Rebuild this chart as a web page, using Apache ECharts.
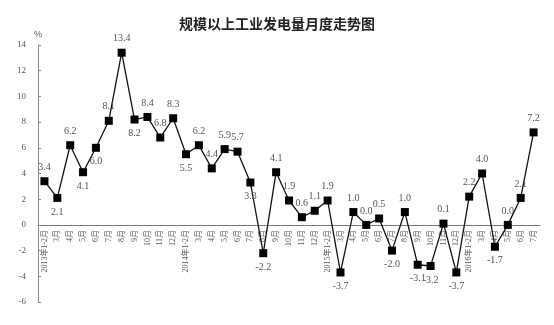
<!DOCTYPE html>
<html><head><meta charset="utf-8">
<script src="https://cdn.jsdelivr.net/npm/echarts@6/dist/echarts.min.js"></script>
<style>html,body{margin:0;padding:0;background:#fff}#c{width:554px;height:325px}</style>
</head><body><div id="c"></div>
<script>
const categories = ['2013年1-2月','3月','4月','5月','6月','7月','8月','9月','10月','11月','12月',
  '2014年1-2月','3月','4月','5月','6月','7月','8月','9月','10月','11月','12月',
  '2015年1-2月','3月','4月','5月','6月','7月','8月','9月','10月','11月','12月',
  '2016年1-2月','3月','4月','5月','6月','7月'];
const values = [3.4,2.1,6.2,4.1,6.0,8.1,13.4,8.2,8.4,6.8,8.3,
  5.5,6.2,4.4,5.9,5.7,3.3,-2.2,4.1,1.9,0.6,1.1,
  1.9,-3.7,1.0,0.0,0.5,-2.0,1.0,-3.1,-3.2,0.1,-3.7,
  2.2,4.0,-1.7,0.0,2.1,7.2];
const yTicks = {min:-6, max:14, interval:2};
// indices whose value label is drawn under the marker
const labelBelow = [1,3,4,7,11,16,17,23,27,29,30,32,35];

const H = 325, gridTop = 45, gridBottom = 23;
const plotH = H - gridTop - gridBottom;
// move category axis up to the zero line of the value axis
const zeroOffset = plotH * (0 - yTicks.min) / (yTicks.max - yTicks.min);

const seriesData = values.map((v,i)=>({
  value:v,
  label:{position: labelBelow.includes(i) ? 'bottom' : 'top'}
}));
const serif = '"Liberation Serif","Noto Sans CJK SC",serif';
const chart = echarts.init(document.getElementById('c'));
chart.setOption({
  animation:false,
  title:{text:'规模以上工业发电量月度走势图',left:'center',top:12,
    textStyle:{fontSize:14,fontWeight:'bold',color:'#222',fontFamily:'"Noto Sans CJK SC",sans-serif'}},
  grid:{left:38,right:14,top:gridTop,bottom:gridBottom,containLabel:false,outerBoundsMode:'none'},
  xAxis:{type:'category',data:categories,boundaryGap:true,position:'bottom',offset:-zeroOffset,
    axisLine:{onZero:false,lineStyle:{color:'#777',width:1}},
    axisTick:{inside:true,length:3,lineStyle:{color:'#777'}},
    axisLabel:{rotate:90,fontSize:8,color:'#555',interval:0,margin:5,fontFamily:serif}},
  yAxis:{type:'value',min:yTicks.min,max:yTicks.max,interval:yTicks.interval,
    name:'%',nameLocation:'end',nameGap:6,
    nameTextStyle:{fontSize:9,color:'#555',align:'center'},
    axisLine:{show:true,lineStyle:{color:'#888'}},
    axisTick:{show:true,inside:true,length:3,lineStyle:{color:'#888'}},
    splitLine:{show:false},
    axisLabel:{fontSize:9,color:'#555',margin:12,fontFamily:serif}},
  series:[{type:'line',data:seriesData,symbol:'rect',symbolSize:8,
    lineStyle:{color:'#111',width:1.3},itemStyle:{color:'#000'},
    label:{show:true,fontSize:10,color:'#555',distance:5,fontFamily:serif,
      formatter:p=>p.value.toFixed(1)}}]
});
</script></body></html>
